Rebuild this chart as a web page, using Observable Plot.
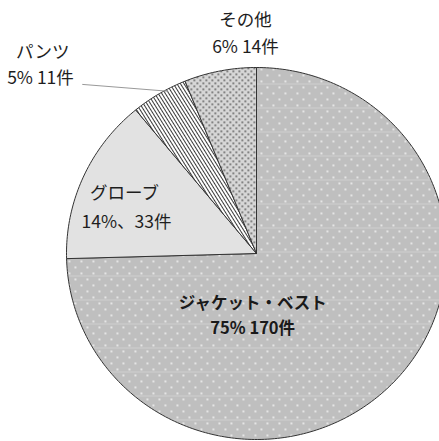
<!DOCTYPE html>
<html><head><meta charset="utf-8">
<script src="https://cdn.jsdelivr.net/npm/d3@7"></script>
<script src="https://cdn.jsdelivr.net/npm/@observablehq/plot@0.6"></script>
<style>
html,body{margin:0;padding:0;background:#fff;overflow:hidden}
#chart{width:439px;height:441px;overflow:hidden}
</style>
</head><body><div id="chart"></div>
<script>
// ---- data ----
const categories = ["ジャケット・ベスト", "グローブ", "パンツ", "その他"];
const counts = [170, 33, 11, 14];
const valueLabels = ["75% 170件", "14%、33件", "5% 11件", "6% 14件"];
const patternIds = ["pat-jacket", "pat-glove", "pat-pants", "pat-other"];

// ---- layout (label anchors in data units of the unit circle) ----
const nameAnchors  = [[-0.02, -0.27], [-0.695, 0.323], [-1.125, 1.081], [-0.058, 1.253]];
const valueAnchors = [[-0.02, -0.405], [-0.684, 0.167], [-1.137, 0.941], [-0.058, 1.108]];
const boldFlags = [true, false, false, false];

const table = categories.map((c, i) => ({name: c, count: counts[i], value: valueLabels[i], pat: patternIds[i]}));
const arcs = d3.pie().sort(null).value(d => d.count).startAngle(0).endAngle(2 * Math.PI)(table);

const polar = (a, r) => ({x: r * Math.sin(a), y: r * Math.cos(a)});
const slicePolys = arcs.map(a => {
  const pts = [{x: 0, y: 0}];
  const n = Math.max(4, Math.ceil((a.endAngle - a.startAngle) / (Math.PI / 180)));
  for (let k = 0; k <= n; k++) pts.push(polar(a.startAngle + (a.endAngle - a.startAngle) * k / n, 1));
  pts.push({x: 0, y: 0});
  return {pat: a.data.pat, pts};
});

// leader line for パンツ: from label toward the slice's outer arc
const pantsArc = arcs[2];
const leaderAngle = pantsArc.startAngle + (pantsArc.endAngle - pantsArc.startAngle) * 0.65;
const leader = [{x: -0.915, y: 0.909}, polar(leaderAngle, 0.99)];

const labelRows = [];
table.forEach((d, i) => {
  labelRows.push({x: nameAnchors[i][0], y: nameAnchors[i][1], text: d.name, bold: boldFlags[i]});
  labelRows.push({x: valueAnchors[i][0], y: valueAnchors[i][1], text: d.value, bold: boldFlags[i]});
});

const chart = Plot.plot({
  width: 439,
  height: 441,
  margin: 0,
  style: {fontFamily: "'Noto Sans CJK JP', 'Noto Sans', sans-serif", overflow: "hidden", background: "#fff"},
  x: {domain: [-1, 1], range: [66, 446], axis: null},
  y: {domain: [-1, 1], range: [439, 67], axis: null},
  marks: [
    ...slicePolys.map(s => Plot.line(s.pts, {x: "x", y: "y", fill: `url(#${s.pat})`, stroke: "#333", strokeWidth: 1, strokeLinejoin: "round"})),
    Plot.line(leader, {x: "x", y: "y", stroke: "#999", strokeWidth: 1}),
    Plot.text(labelRows.filter(d => !d.bold), {x: "x", y: "y", text: "text", fontSize: 17.5, fill: "#1e1e1e"}),
    Plot.text(labelRows.filter(d => d.bold), {x: "x", y: "y", text: "text", fontSize: 16.5, fontWeight: "bold", fill: "#1a1a1a"})
  ]
});

// patterns
const defs = d3.select(chart).insert("defs", ":first-child");
// jacket: gray with staggered white dots and faint scan lines
let p = defs.append("pattern").attr("id", "pat-jacket").attr("patternUnits", "userSpaceOnUse").attr("width", 12).attr("height", 24);
p.append("rect").attr("width", 12).attr("height", 24).attr("fill", "#bfbfbf");
[[2, 2], [8, 8], [2, 14], [8, 20]].forEach(([x, y]) => p.append("rect").attr("x", x).attr("y", y).attr("width", 1.8).attr("height", 1.8).attr("fill", "#eeeeee"));
p.append("rect").attr("x", 0).attr("y", 11).attr("width", 12).attr("height", 0.8).attr("fill", "#d2d2d2");
// glove: plain light gray
p = defs.append("pattern").attr("id", "pat-glove").attr("patternUnits", "userSpaceOnUse").attr("width", 10).attr("height", 10);
p.append("rect").attr("width", 10).attr("height", 10).attr("fill", "#e2e2e2");
// pants: hatch
p = defs.append("pattern").attr("id", "pat-pants").attr("patternUnits", "userSpaceOnUse").attr("width", 3).attr("height", 10).attr("patternTransform", "rotate(-32)");
p.append("rect").attr("width", 3).attr("height", 10).attr("fill", "#ffffff");
p.append("rect").attr("x", 0).attr("y", 0).attr("width", 1).attr("height", 10).attr("fill", "#3a3a3a");
// other: gray with dense dark dots
p = defs.append("pattern").attr("id", "pat-other").attr("patternUnits", "userSpaceOnUse").attr("width", 6).attr("height", 6);
p.append("rect").attr("width", 6).attr("height", 6).attr("fill", "#d6d6d6");
[[1, 1], [4, 4]].forEach(([x, y]) => p.append("rect").attr("x", x).attr("y", y).attr("width", 1.6).attr("height", 1.6).attr("fill", "#555"));

document.getElementById("chart").appendChild(chart);
</script>
</body></html>
